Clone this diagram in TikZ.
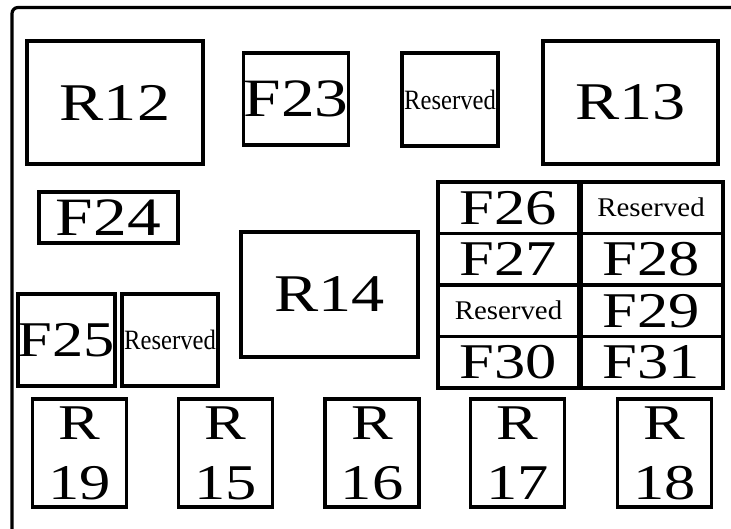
\documentclass[tikz,border=0pt]{standalone}
\usepackage{fontspec}
\setmainfont{Liberation Serif}
\newfontfamily\wideserif[FakeStretch=1.25]{Liberation Serif}
\newfontfamily\midserif[FakeStretch=1.07]{Liberation Serif}
\newfontfamily\slimserif[FakeStretch=0.88]{Liberation Serif}
\usepackage{tikz}

\begin{document}
\begin{tikzpicture}[
                    x=1pt, y=-1pt,
                    frame/.style={line width=3.2pt, rounded corners=6pt},
                    box/.style={draw, line width=3.3pt, inner sep=0pt},
                    relay/.style={box, font=\wideserif\fontsize{53}{53}\selectfont},
                    fuse/.style={box, font=\wideserif\fontsize{54}{54}\selectfont},
                    spare/.style={box, font=\slimserif\fontsize{28}{28}\selectfont},
                    cell/.style={box, minimum height=51.5pt, font=\wideserif\fontsize{50}{50}\selectfont},
                    cellspare/.style={cell, font=\midserif\fontsize{27}{27}\selectfont},
                    minirelay/.style={box, minimum width=94pt, minimum height=108pt, align=center, font=\wideserif\fontsize{50}{60}\selectfont},
                    divider/.style={line width=5.5pt}
                ]
                \useasboundingbox (0,0) rectangle (731,529);
                \draw[frame] (731,7.5) -- (12,7.5) -- (12,529);

                % top row
                \node[relay, minimum width=176pt, minimum height=123pt] (r12) at (115,102.5) {R12};
                \node[fuse, minimum width=94pt, minimum height=92pt] (f23) at (296,99) {F23};
                \node[spare, minimum width=96pt, minimum height=93pt] (spareA) at (450,99.5) {Reserved};
                \node[relay, minimum width=175pt, minimum height=123pt] (r13) at (630.5,102.5) {R13};

                % middle left
                \node[fuse, minimum width=139pt, minimum height=51pt] (f24) at (108.5,217.5) {F24};
                \node[relay, minimum width=177pt, minimum height=125pt] (r14) at (329.5,294.5) {R14};
                \node[fuse, font=\wideserif\fontsize{50}{50}\selectfont, minimum width=95pt, minimum height=92pt] (f25) at (66.5,340) {F25};
                \node[spare, minimum width=96pt, minimum height=92pt] (spareB) at (170,340) {Reserved};

                % fuse block
                \node[cell, minimum width=141pt] (f26) at (508.5,207.75) {F26};
                \node[cellspare, minimum width=144pt] (spareC) at (651,207.75) {Reserved};
                \node[cell, minimum width=141pt] (f27) at (508.5,259.25) {F27};
                \node[cell, minimum width=144pt] (f28) at (651,259.25) {F28};
                \node[cellspare, minimum width=141pt] (spareD) at (508.5,310.75) {Reserved};
                \node[cell, minimum width=144pt] (f29) at (651,310.75) {F29};
                \node[cell, minimum width=141pt] (f30) at (508.5,362.25) {F30};
                \node[cell, minimum width=144pt] (f31) at (651,362.25) {F31};
                \draw[divider] (f26.north east) -- (f30.south east);

                % bottom relays
                \foreach \n/\x in {19/79.5, 15/225.5, 16/372, 17/517.5, 18/664.5}{
                        \node[minirelay] (r\n) at (\x,453) {R\\\n};
                    }
            \end{tikzpicture}
\end{document}
